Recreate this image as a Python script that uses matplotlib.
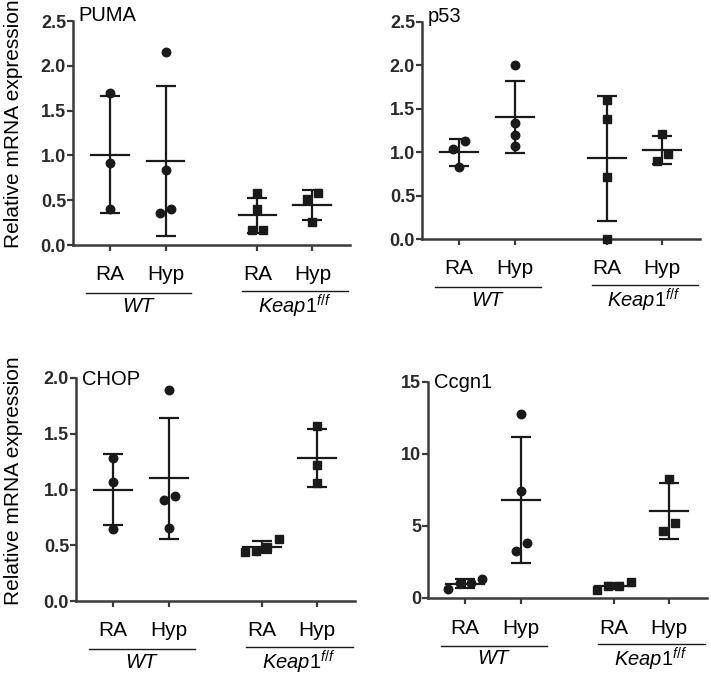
import numpy as np
import matplotlib
matplotlib.use("Agg")
import matplotlib.pyplot as plt
import matplotlib.transforms as mtransforms

plt.rcParams['font.family'] = ['Liberation Sans', 'DejaVu Sans']
plt.rcParams['mathtext.fontset'] = 'custom'
plt.rcParams['mathtext.it'] = 'Liberation Sans:italic'
plt.rcParams['mathtext.rm'] = 'Liberation Sans'

# groups: WT RA, WT Hyp, Keap1 RA, Keap1 Hyp
groups = ['RA', 'Hyp', 'RA', 'Hyp']
genotypes = ['WT', r'$\mathit{Keap1}^{\mathit{f/f}}$']

puma = [[1.70, 0.92, 0.40],
        [2.15, 0.84, 0.36, 0.40],
        [0.58, 0.40, 0.17, 0.17],
        [0.58, 0.51, 0.26]]
p53 = [[1.125, 1.04, 0.83],
       [2.00, 1.34, 1.20, 1.075],
       [1.605, 1.386, 0.72, 0.0],
       [1.21, 0.98, 0.90]]
chop = [[1.28, 1.07, 0.65],
        [1.89, 0.94, 0.91, 0.655],
        [0.44, 0.48, 0.45, 0.56],
        [1.566, 1.217, 1.058]]
ccgn1 = [[1.30, 0.60, 1.05, 1.05],
         [12.76, 7.45, 3.85, 3.23],
         [0.57, 1.08, 0.85, 0.85],
         [8.28, 5.19, 4.66]]

panels = [
    # name, data, ylim, yticks, ticklabels, axes box in pixels (left, top, right, bottom), ylabel
    ('PUMA', puma, 2.5, [0, 0.5, 1.0, 1.5, 2.0, 2.5], '%.1f', (73, 21, 350, 245), True),
    ('p53', p53, 2.5, [0, 0.5, 1.0, 1.5, 2.0, 2.5], '%.1f', (422, 22, 700, 239), False),
    ('CHOP', chop, 2.0, [0, 0.5, 1.0, 1.5, 2.0], '%.1f', (76, 378, 355, 601), True),
    ('Ccgn1', ccgn1, 15, [0, 5, 10, 15], '%d', (428, 382, 707, 598), False),
]

W, H = 711, 682
xpos = np.array([0.665, 1.67, 3.33, 4.32])
ink = '#1a1a1a'
spine = '#3a3a3a'
px = 0.72  # points per pixel at dpi 100


def spread(vals, thresh, step):
    order = np.argsort(vals)
    offs = np.zeros(len(vals))
    clusters = [[order[0]]]
    for i in order[1:]:
        if vals[i] - vals[clusters[-1][-1]] < thresh:
            clusters[-1].append(i)
        else:
            clusters.append([i])
    for c in clusters:
        n = len(c)
        for k, i in enumerate(c):
            offs[i] = (k - (n - 1) / 2) * step
    return offs


fig = plt.figure(figsize=(W / 100, H / 100), dpi=100)

for name, data, ymax, yt, fmt, box, ylab in panels:
    l, t, r, b = box
    ax = fig.add_axes([l / W, 1 - b / H, (r - l) / W, (b - t) / H])
    ax.set_xlim(0, 5)
    ax.set_ylim(0, ymax)
    ppu = (b - t) / ymax  # pixels per unit
    for gi, vals in enumerate(data):
        vals = np.array(vals)
        offs = spread(vals, 10 / ppu, 0.2)
        marker = 'o' if gi < 2 else 's'
        ax.plot(xpos[gi] + offs, vals, marker, ms=8.5 * px if marker == 'o' else 8 * px,
                color=ink, mec=ink, clip_on=False, zorder=3)
        m = vals.mean()
        sd = vals.std(ddof=1)
        ax.errorbar(xpos[gi], m, yerr=sd, fmt='none', ecolor=ink, elinewidth=1.6,
                    capsize=7.2, capthick=1.6, zorder=2)
        ax.plot([xpos[gi] - 0.34, xpos[gi] + 0.34], [m, m], color=ink, lw=1.6, zorder=2)

    for s in ['top', 'right']:
        ax.spines[s].set_visible(False)
    for s in ['left', 'bottom']:
        ax.spines[s].set_color(spine)
        ax.spines[s].set_linewidth(1.8)
    ax.set_yticks(yt)
    ax.set_yticklabels([fmt % v for v in yt], fontweight='bold', fontsize=13, color='#2a2a2a')
    ax.set_xticks(xpos)
    ax.set_xticklabels([])
    ax.tick_params(axis='both', direction='out', length=4, width=1.6, color=spine)
    ax.tick_params(axis='y', pad=1)

    ax.text(0.02, 1.0 if name in ('PUMA', 'p53') else 0.97, name, transform=ax.transAxes,
            fontsize=14.5, ha='left', va='baseline', color='black')

    if ylab:
        ax.set_ylabel('Relative mRNA expression', fontsize=15)
        ax.yaxis.set_label_coords(-(l - 23) / (r - l), 0.54)

    base = mtransforms.blended_transform_factory(ax.transData, ax.transAxes)
    for gi, g in enumerate(groups):
        tr = mtransforms.offset_copy(base, fig=fig, y=-30, units='dots')
        ax.text(xpos[gi], 0, g, transform=tr, fontsize=15, ha='center', va='center')
    for k, gname in enumerate(genotypes):
        c = (xpos[2 * k] + xpos[2 * k + 1]) / 2 + (0 if k == 0 else 0.17)
        trl = mtransforms.offset_copy(base, fig=fig, y=-48 + k * 2, units='dots')
        ax.plot([c - 0.94, c + 0.97], [0, 0], color=ink, lw=1.0, transform=trl, clip_on=False)
        trt = mtransforms.offset_copy(base, fig=fig, y=-61, units='dots')
        ax.text(c, 0, gname, transform=trt, fontsize=14.5, ha='center', va='center',
                style='italic')

plt.savefig('out.png', dpi=100)
